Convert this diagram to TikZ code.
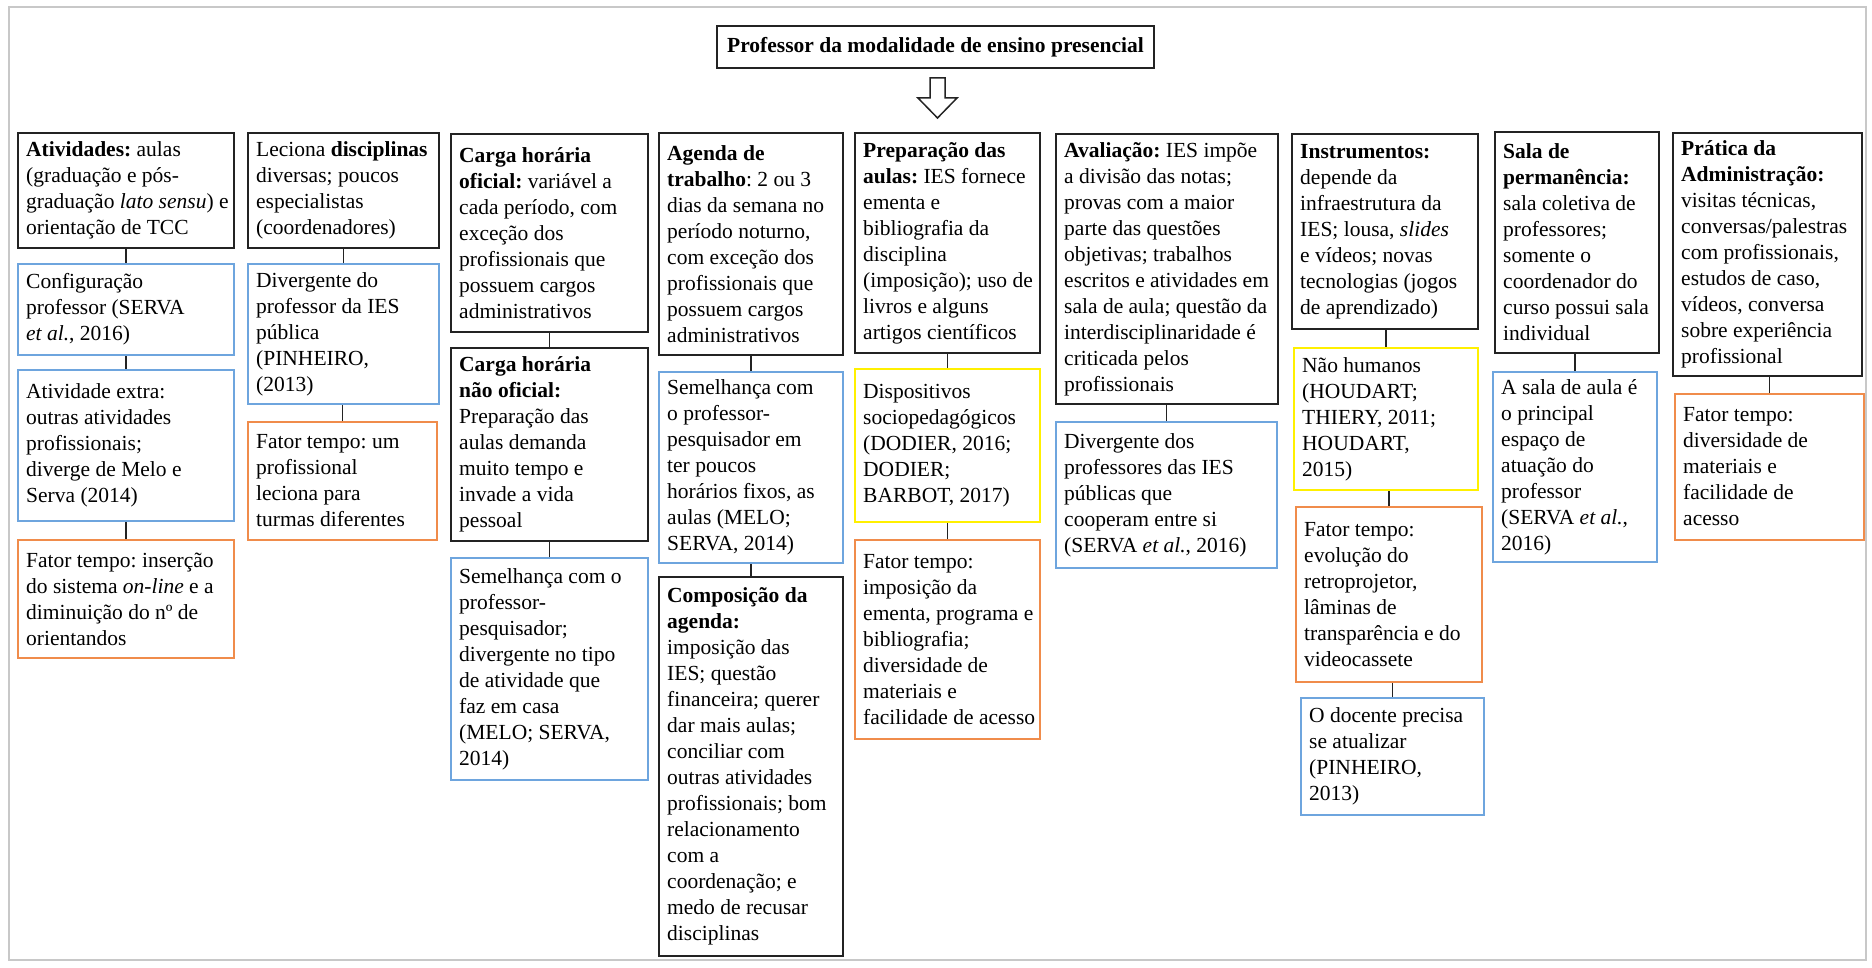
\documentclass[tikz,border=0pt]{standalone}
\usepackage{fontspec}
\setmainfont{Liberation Serif}
\definecolor{boxblue}{RGB}{110,165,222}
\definecolor{boxorange}{RGB}{240,140,75}
\definecolor{boxyellow}{RGB}{255,240,0}
\definecolor{boxblack}{RGB}{35,35,35}
\definecolor{framegray}{RGB}{200,200,200}
\newcommand{\bx}[7]{%
  \node[#1, minimum width=#5pt, minimum height=#6pt] (#2) at (#3,#4) {};
  \node[txt] (#2t) at ([xshift=9pt]#2.west) {#7};}
\begin{document}
\begin{tikzpicture}[x=1pt,y=-1pt,
  box/.style={anchor=north west, inner sep=0pt, line width=2pt},
  txt/.style={anchor=west, inner sep=0pt, align=left,
    font=\fontsize{21.5pt}{26pt}\selectfont\frenchspacing},
  blk/.style={box, draw=boxblack},
  blu/.style={box, draw=boxblue},
  org/.style={box, draw=boxorange},
  yel/.style={box, draw=boxyellow},
  conn/.style={draw=boxblack, line width=1.3pt}]
\useasboundingbox (0,0) rectangle (1872,968);
\draw[framegray, line width=2pt] (9,7) rectangle (1866,960);

\node[draw=boxblack, line width=2pt, anchor=north west, inner sep=0pt,
  minimum width=437pt, minimum height=42pt, align=center,
  font=\fontsize{21.5pt}{26pt}\selectfont\bfseries] (top) at (716,25)
  {Professor da modalidade de ensino presencial};
\draw[boxblack, line width=1.5pt, fill=white]
  (930,78) -- (945,78) -- (945,98) -- (957,98) -- (937.5,118) -- (918,98) -- (930,98) -- cycle;

% column 1
\bx{blk}{A1}{17}{132}{216}{115}{\textbf{Atividades:} aulas\\(graduação e pós-\\graduação \textit{lato sensu}) e\\orientação de TCC}
\bx{blu}{A2}{17}{263}{216}{91}{Configuração\\professor (SERVA\\\textit{et al.}, 2016)}
\bx{blu}{A3}{17}{369}{216}{151}{Atividade extra:\\outras atividades\\profissionais;\\diverge de Melo e\\Serva (2014)}
\bx{org}{A4}{17}{539}{216}{118}{Fator tempo: inserção\\do sistema \textit{on-line} e a\\diminuição do nº de\\orientandos}

% column 2
\bx{blk}{B1}{247}{132}{191}{115}{Leciona \textbf{disciplinas}\\diversas; poucos\\especialistas\\(coordenadores)}
\bx{blu}{B2}{247}{263}{191}{140}{Divergente do\\professor da IES\\pública\\(PINHEIRO,\\(2013)}
\bx{org}{B3}{247}{421}{189}{118}{Fator tempo: um\\profissional\\leciona para\\turmas diferentes}

% column 3
\bx{blk}{C1}{450}{133}{197}{198}{\textbf{Carga horária}\\\textbf{oficial:} variável a\\cada período, com\\exceção dos\\profissionais que\\possuem cargos\\administrativos}
\bx{blk}{C2}{450}{347}{197}{193}{\textbf{Carga horária}\\\textbf{não oficial:}\\Preparação das\\aulas demanda\\muito tempo e\\invade a vida\\pessoal}
\bx{blu}{C3}{450}{557}{197}{222}{Semelhança com o\\professor-\\pesquisador;\\divergente no tipo\\de atividade que\\faz em casa\\(MELO; SERVA,\\2014)}

% column 4
\bx{blk}{D1}{658}{132}{184}{222}{\textbf{Agenda de}\\\textbf{trabalho}: 2 ou 3\\dias da semana no\\período noturno,\\com exceção dos\\profissionais que\\possuem cargos\\administrativos}
\bx{blu}{D2}{658}{371}{184}{191}{Semelhança com\\o professor-\\pesquisador em\\ter poucos\\horários fixos, as\\aulas (MELO;\\SERVA, 2014)}
\bx{blk}{D3}{658}{576}{184}{379}{\textbf{Composição da}\\\textbf{agenda:}\\imposição das\\IES; questão\\financeira; querer\\dar mais aulas;\\conciliar com\\outras atividades\\profissionais; bom\\relacionamento\\com a\\coordenação; e\\medo de recusar\\disciplinas}

% column 5
\bx{blk}{E1}{854}{132}{185}{220}{\textbf{Preparação das}\\\textbf{aulas:} IES fornece\\ementa e\\bibliografia da\\disciplina\\(imposição); uso de\\livros e alguns\\artigos científicos}
\bx{yel}{E2}{854}{368}{185}{153}{Dispositivos\\sociopedagógicos\\(DODIER, 2016;\\DODIER;\\BARBOT, 2017)}
\bx{org}{E3}{854}{539}{185}{199}{Fator tempo:\\imposição da\\ementa, programa e\\bibliografia;\\diversidade de\\materiais e\\facilidade de acesso}

% column 6
\bx{blk}{F1}{1055}{133}{222}{270}{\textbf{Avaliação:} IES impõe\\a divisão das notas;\\provas com a maior\\parte das questões\\objetivas; trabalhos\\escritos e atividades em\\sala de aula; questão da\\interdisciplinaridade é\\criticada pelos\\profissionais}
\bx{blu}{F2}{1055}{421}{221}{146}{Divergente dos\\professores das IES\\públicas que\\cooperam entre si\\(SERVA \textit{et al.}, 2016)}

% column 7
\bx{blk}{G1}{1291}{133}{186}{195}{\textbf{Instrumentos:}\\depende da\\infraestrutura da\\IES; lousa, \textit{slides}\\e vídeos; novas\\tecnologias (jogos\\de aprendizado)}
\bx{yel}{G2}{1293}{347}{184}{142}{Não humanos\\(HOUDART;\\THIERY, 2011;\\HOUDART,\\2015)}
\bx{org}{G3}{1295}{506}{186}{175}{Fator tempo:\\evolução do\\retroprojetor,\\lâminas de\\transparência e do\\videocassete}
\bx{blu}{G4}{1300}{697}{183}{117}{O docente precisa\\se atualizar\\(PINHEIRO,\\2013)}

% column 8
\bx{blk}{H1}{1494}{131}{164}{221}{\textbf{Sala de}\\\textbf{permanência:}\\sala coletiva de\\professores;\\somente o\\coordenador do\\curso possui sala\\individual}
\bx{blu}{H2}{1492}{371}{164}{190}{A sala de aula é\\o principal\\espaço de\\atuação do\\professor\\(SERVA \textit{et al.},\\2016)}

% column 9
\bx{blk}{I1}{1672}{132}{189}{243}{\textbf{Prática da}\\\textbf{Administração:}\\visitas técnicas,\\conversas/palestras\\com profissionais,\\estudos de caso,\\vídeos, conversa\\sobre experiência\\profissional}
\bx{org}{I2}{1674}{393}{189}{146}{Fator tempo:\\diversidade de\\materiais e\\facilidade de\\acesso}

% connectors
\foreach \a/\b in {A1/A2,A2/A3,A3/A4,B1/B2,B2/B3,C1/C2,C2/C3,D1/D2,D2/D3,
  E1/E2,E2/E3,F1/F2,G1/G2,G2/G3,G3/G4,H1/H2,I1/I2}
  \draw[conn] (\b.north) -- (\b.north |- \a.south);
\end{tikzpicture}
\end{document}
